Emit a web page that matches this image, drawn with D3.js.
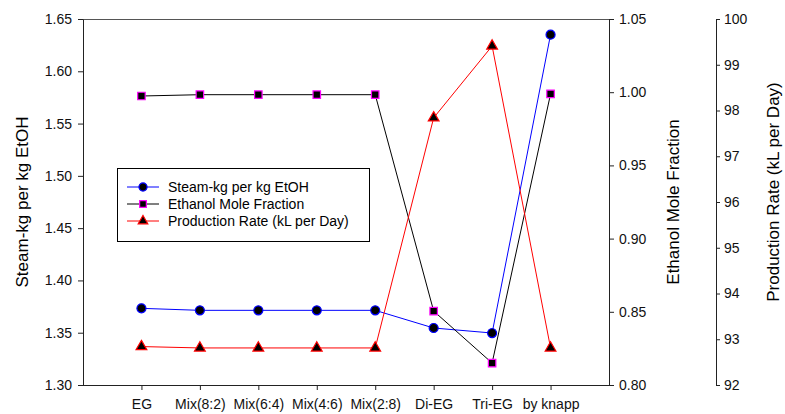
<!DOCTYPE html>
<html>
<head>
<meta charset="utf-8">
<script src="https://cdn.jsdelivr.net/npm/d3@7"></script>
<style>
  body { margin: 0; background: #fff; }
  text { font-family: Arial, "Liberation Sans", sans-serif; }
</style>
</head>
<body>
<svg id="chart" width="785" height="414"></svg>
<script>
const categories = ["EG", "Mix(8:2)", "Mix(6:4)", "Mix(4:6)", "Mix(2:8)", "Di-EG", "Tri-EG", "by knapp"];
const steam      = [1.3733, 1.3714, 1.3714, 1.3714, 1.3714, 1.3545, 1.3497, 1.635];
const ethanol    = [0.9974, 0.9983, 0.9983, 0.9983, 0.9983, 0.8505, 0.815, 0.9988];
const production = [92.84, 92.81, 92.81, 92.81, 92.81, 97.84, 99.41, 92.81];
const steamTicks = [1.30, 1.35, 1.40, 1.45, 1.50, 1.55, 1.60, 1.65];
const ethTicks   = [0.80, 0.85, 0.90, 0.95, 1.00, 1.05];
const prodTicks  = [92, 93, 94, 95, 96, 97, 98, 99, 100];

const margin = {top: 19, left: 83, right: 609, bottom: 385};
const svg = d3.select("#chart");

const x  = d3.scalePoint().domain(categories).range([margin.left, margin.right]).padding(1);
const y1 = d3.scaleLinear().domain([1.30, 1.65]).range([margin.bottom, margin.top]);
const y2 = d3.scaleLinear().domain([0.80, 1.05]).range([margin.bottom, margin.top]);
const y3 = d3.scaleLinear().domain([92, 100]).range([margin.bottom, margin.top]);

// top frame line
svg.append("line")
  .attr("x1", margin.left).attr("x2", margin.right)
  .attr("y1", margin.top + 0.5).attr("y2", margin.top + 0.5)
  .attr("stroke", "#555").attr("stroke-width", 1);

function styleAxis(fs) {
  return function(g) {
    g.select(".domain").attr("stroke", "#222");
    g.selectAll(".tick line").attr("stroke", "#222");
    g.selectAll("text").style("font-size", fs + "px").attr("fill", "#111")
      .style("font-family", "Arial, 'Liberation Sans', sans-serif");
  };
}

// x axis
svg.append("g")
  .attr("transform", "translate(0," + margin.bottom + ")")
  .call(d3.axisBottom(x).tickSizeInner(5).tickSizeOuter(0).tickPadding(9))
  .call(styleAxis(14))
  .call(g => g.select(".domain").attr("d", "M" + margin.left + ",0.5H" + margin.right));

// left axis
svg.append("g")
  .attr("transform", "translate(" + margin.left + ",0)")
  .call(d3.axisLeft(y1).tickValues(steamTicks).tickFormat(d3.format(".2f"))
    .tickSizeInner(5).tickSizeOuter(0).tickPadding(6))
  .call(styleAxis(14));

// right axis (ethanol)
svg.append("g")
  .attr("transform", "translate(" + margin.right + ",0)")
  .call(d3.axisRight(y2).tickValues(ethTicks).tickFormat(d3.format(".2f"))
    .tickSizeInner(5).tickSizeOuter(0).tickPadding(5))
  .call(styleAxis(14));

// offset axis (production)
svg.append("g")
  .attr("transform", "translate(716,0)")
  .call(d3.axisRight(y3).tickValues(prodTicks).tickFormat(d3.format("d"))
    .tickSizeInner(4).tickSizeOuter(0).tickPadding(4))
  .call(styleAxis(14));

// axis titles
svg.append("text")
  .attr("transform", "translate(28,202) rotate(-90)")
  .attr("text-anchor", "middle")
  .style("font-size", "17px")
  .text("Steam-kg per kg EtOH");
svg.append("text")
  .attr("transform", "translate(679,202) rotate(-90)")
  .attr("text-anchor", "middle")
  .style("font-size", "17px")
  .text("Ethanol Mole Fraction");
svg.append("text")
  .attr("transform", "translate(779,192) rotate(-90)")
  .attr("text-anchor", "middle")
  .style("font-size", "17px")
  .text("Production Rate (kL per Day)");

const series = [
  {name: "Steam-kg per kg EtOH", values: steam, y: y1, line: "#0000ff", stroke: "#0000ff", shape: d3.symbolCircle, size: 64},
  {name: "Ethanol Mole Fraction", values: ethanol, y: y2, line: "#000000", stroke: "#ff00ff", shape: d3.symbolSquare, size: 56},
  {name: "Production Rate (kL per Day)", values: production, y: y3, line: "#ff0000", stroke: "#ff0000", shape: d3.symbolTriangle, size: 50}
];

series.forEach(function(s) {
  const line = d3.line()
    .x(function(d, i) { return x(categories[i]); })
    .y(function(d) { return s.y(d); });
  svg.append("path")
    .datum(s.values)
    .attr("fill", "none")
    .attr("stroke", s.line)
    .attr("stroke-width", 1)
    .attr("d", line);
});

series.forEach(function(s) {
  svg.append("g").selectAll("path")
    .data(s.values)
    .join("path")
      .attr("transform", function(d, i) { return "translate(" + x(categories[i]) + "," + s.y(d) + ")"; })
      .attr("d", d3.symbol().type(s.shape).size(s.size))
      .attr("fill", "#000")
      .attr("stroke", s.stroke)
      .attr("stroke-width", 1.2);
});

// legend
const legend = svg.append("g");
legend.append("rect")
  .attr("x", 117.5).attr("y", 168.5)
  .attr("width", 252).attr("height", 73)
  .attr("fill", "#fff").attr("stroke", "#000").attr("stroke-width", 1);

series.forEach(function(s, i) {
  const ly = 187 + i * 17;
  legend.append("line")
    .attr("x1", 127).attr("x2", 159)
    .attr("y1", ly).attr("y2", ly)
    .attr("stroke", s.line).attr("stroke-width", 1);
  legend.append("path")
    .attr("transform", "translate(143," + ly + ")")
    .attr("d", d3.symbol().type(s.shape).size(s.size * 0.8))
    .attr("fill", "#000")
    .attr("stroke", s.stroke)
    .attr("stroke-width", 1.2);
  legend.append("text")
    .attr("x", 168).attr("y", ly)
    .attr("dy", "0.35em")
    .style("font-size", "14px")
    .text(s.name);
});
</script>
</body>
</html>
